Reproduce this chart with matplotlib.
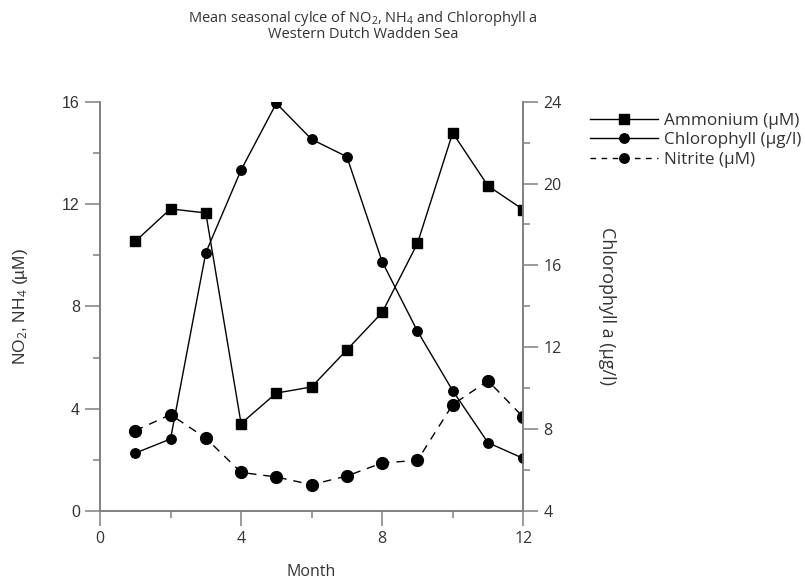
import matplotlib
matplotlib.use("Agg")
import matplotlib.pyplot as plt
from matplotlib.ticker import MultipleLocator
from matplotlib.lines import Line2D

plt.rcParams["font.family"] = "Open Sans"
plt.rcParams["mathtext.fontset"] = "custom"
plt.rcParams["mathtext.rm"] = "Open Sans"
plt.rcParams["mathtext.it"] = "Open Sans"

# ===== Data =====
months = [1, 2, 3, 4, 5, 6, 7, 8, 9, 10, 11, 12]
ammonium = [10.54, 11.81, 11.65, 3.42, 4.61, 4.85, 6.30, 7.76, 10.46, 14.78, 12.71, 11.78]
chlorophyll = [6.83, 7.52, 16.62, 20.66, 23.92, 22.16, 21.31, 16.18, 12.79, 9.88, 7.34, 6.57]
nitrite = [3.14, 3.77, 2.85, 1.51, 1.33, 1.03, 1.37, 1.88, 1.98, 4.16, 5.09, 3.67]

left_ticks = [0, 4, 8, 12, 16]
right_ticks = [4, 8, 12, 16, 20, 24]
month_ticks = [0, 4, 8, 12]

spine_col = "#808080"
text_col = "#333333"

fig = plt.figure(figsize=(8.05, 5.79), dpi=100)
ax = fig.add_axes([0.1242, 0.1174, 0.5258, 0.7070])
ax2 = ax.twinx()

# Ammonium and nitrite on the left axis
ax.plot(months, ammonium, color="black", lw=1, marker="s", ms=6.5,
        label="Ammonium (µM)")
ax.plot(months, nitrite, color="black", lw=1, ls=(0, (6, 5)), marker="o",
        ms=8.5, label="Nitrite (µM)")
# Chlorophyll on the right axis
ax2.plot(months, chlorophyll, color="black", lw=1, marker="o", ms=6.8,
         label="Chlorophyll (µg/l)")

ax.set_xlim(0, 12)
ax.set_ylim(0, 16)
ax2.set_ylim(4, 24)

ax.set_xticks(month_ticks)
ax.xaxis.set_minor_locator(MultipleLocator(2))
ax.set_yticks(left_ticks)
ax.yaxis.set_minor_locator(MultipleLocator(2))
ax2.set_yticks(right_ticks)
ax2.yaxis.set_minor_locator(MultipleLocator(2))

for a in (ax, ax2):
    a.spines["top"].set_visible(False)
    for s in ("left", "right", "bottom"):
        a.spines[s].set_color(spine_col)
        a.spines[s].set_linewidth(1.2)
    a.tick_params(which="both", direction="out", color=spine_col, width=1.1,
                  labelsize=11.5, labelcolor=text_col)
    a.tick_params(which="major", length=10.5, pad=4)
    a.tick_params(which="minor", length=5)

for lab in ax.get_yticklabels():
    lab.set_family("Liberation Sans")

ax.set_xlabel("Month", fontsize=11.5, labelpad=12, color=text_col)
ax.set_ylabel(r"NO$_{2}$, NH$_{4}$ (µM)", fontsize=12.4, family="Liberation Sans",
              color=text_col)
ax.yaxis.set_label_coords(-0.165, 0.5)
ax2.set_ylabel("Chlorophyll a (µg/l)", fontsize=13, rotation=270, color=text_col)
ax2.yaxis.set_label_coords(1.22, 0.5)

fig.text(0.451, 0.968, r"Mean seasonal cylce of NO$_{2}$, NH$_{4}$ and Chlorophyll a",
         ha="center", va="center", fontsize=10.5, color=text_col)
fig.text(0.451, 0.940, "Western Dutch Wadden Sea", ha="center", va="center",
         fontsize=10.5, color=text_col)

handles = [
    Line2D([], [], color="black", lw=1, marker="s", ms=6.5),
    Line2D([], [], color="black", lw=1, marker="o", ms=6.8),
    Line2D([], [], color="black", lw=1, ls=(0, (4, 4)), marker="o", ms=6.8),
]
labels = ["Ammonium (µM)", "Chlorophyll (µg/l)", "Nitrite (µM)"]
fig.legend(handles, labels, loc="upper left", bbox_to_anchor=(0.733, 0.805),
           frameon=False, fontsize=12.3, handlelength=4.0, handletextpad=0.3,
           labelspacing=0.2, borderaxespad=0, borderpad=0, labelcolor=text_col)

fig.savefig("out.png", dpi=100)
